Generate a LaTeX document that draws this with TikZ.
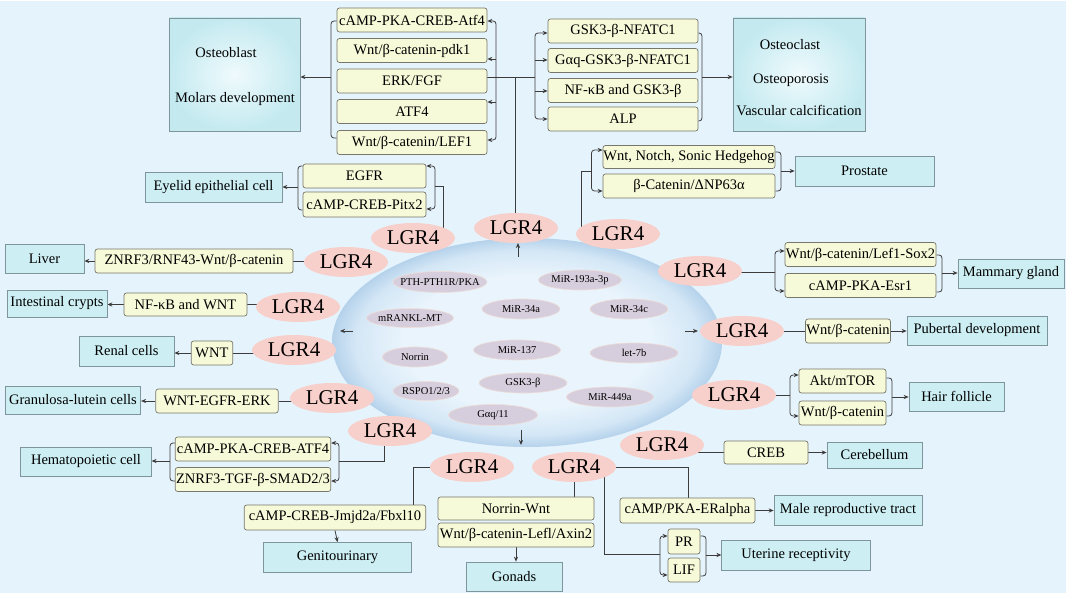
\documentclass[tikz,border=0pt]{standalone}
\usepackage{fontspec}
\setmainfont{Liberation Serif}
\usetikzlibrary{shapes.geometric,arrows.meta,calc}
\pgfdeclarelayer{back}
\pgfdeclarelayer{mid}
\pgfsetlayers{back,mid,main}
\definecolor{bgc}{HTML}{E5F3FC}
\definecolor{ybf}{HTML}{F7FAD8}
\definecolor{ybd}{HTML}{77776B}
\definecolor{cbf}{HTML}{CDEFF4}
\definecolor{cbd}{HTML}{7E969B}
\definecolor{bigA}{HTML}{EFFAFD}
\definecolor{bigB}{HTML}{C4EAF0}
\definecolor{lgf}{HTML}{F8D0CB}
\definecolor{molf}{HTML}{D6CEDC}
\definecolor{molb}{HTML}{EEDDD8}
\definecolor{lnc}{HTML}{3C3C3C}
\definecolor{cellA}{HTML}{E9F4FC}
\definecolor{cellB}{HTML}{D4E7F6}
\definecolor{cellC}{HTML}{B5D2EB}
\pgfdeclareradialshading{cellshade}{\pgfpoint{0bp}{0bp}}{color(0bp)=(cellA); color(16bp)=(cellA); color(22bp)=(cellB); color(25bp)=(cellC); color(50bp)=(cellC)}
\newcommand{\bxfont}{\fontsize{14.5pt}{17pt}\selectfont}
\newcommand{\lgfont}{\fontsize{21pt}{24pt}\selectfont}
\newcommand{\mlfont}{\fontsize{10.5pt}{12pt}\selectfont}
\begin{document}
\begin{tikzpicture}[x=1pt,y=-1pt,
 yb/.style={draw=ybd, fill=ybf, rounded corners=2.5pt, line width=0.7pt, inner sep=0pt, font=\bxfont},
 cb/.style={draw=cbd, fill=cbf, line width=0.7pt, inner sep=0pt, font=\bxfont},
 bigb/.style={draw=cbd, inner color=bigA, outer color=bigB, line width=0.7pt, inner sep=0pt},
 txt/.style={inner sep=0pt, font=\bxfont},
 lg/.style={ellipse, fill=lgf, minimum width=84pt, minimum height=30pt, inner sep=0pt, font=\lgfont},
 mol/.style={ellipse, fill=molf, draw=molb, line width=0.6pt, inner sep=0pt},
 moltxt/.style={inner sep=0pt, font=\mlfont},
 ln/.style={draw=lnc, line width=0.8pt},
 ar/.style={ln, -{Stealth[length=5pt,width=4.2pt]}},
 rc/.style={rounded corners=3pt}]
\useasboundingbox (0,0) rectangle (1072,599);
\begin{pgfonlayer}{back}
\fill[white] (0,0) rectangle (1072,599);
\fill[bgc] (0,1) rectangle (1066,593);
\shade[shading=cellshade] (527,342.5) ellipse [x radius=195pt, y radius=104.5pt];
\end{pgfonlayer}

% ---------- top-left group
\node[bigb, minimum width=131, minimum height=113] (obx) at (234.5,74.5) {};
\node[txt] (obt1) at (226,53) {Osteoblast};
\node[txt] (obt2) at (235,99) {Molars development};
\node[yb, minimum width=150, minimum height=24] (ob1) at (412,20) {cAMP-PKA-CREB-Atf4};
\node[yb, minimum width=150, minimum height=24] (ob2) at (412,50.5) {Wnt/β-catenin-pdk1};
\node[yb, minimum width=150, minimum height=24] (ob3) at (412,81) {ERK/FGF};
\node[yb, minimum width=150, minimum height=24] (ob4) at (412,111.5) {ATF4};
\node[yb, minimum width=150, minimum height=24] (ob5) at (412,142.5) {Wnt/β-catenin/LEF1};

% ---------- top-right group
\node[yb, minimum width=150, minimum height=24] (oc1) at (623,31) {GSK3-β-NFATC1};
\node[yb, minimum width=150, minimum height=24] (oc2) at (623,60.5) {Gαq-GSK3-β-NFATC1};
\node[yb, minimum width=150, minimum height=24] (oc3) at (623,90.5) {NF-κB and GSK3-β};
\node[yb, minimum width=150, minimum height=24] (oc4) at (623,119) {ALP};
\node[bigb, minimum width=132, minimum height=113] (ocx) at (799,74.5) {};
\node[txt] (oct1) at (790,45) {Osteoclast};
\node[txt] (oct2) at (791,80) {Osteoporosis};
\node[txt] (oct3) at (799,111) {Vascular calcification};

% ---------- eyelid
\node[cb, minimum width=137, minimum height=30] (eyx) at (213.5,187) {Eyelid epithelial cell};
\node[yb, minimum width=123, minimum height=24] (ey1) at (364.5,176) {EGFR};
\node[yb, minimum width=123, minimum height=25] (ey2) at (364.5,204.5) {cAMP-CREB-Pitx2};

% ---------- prostate
\node[yb, minimum width=172, minimum height=23] (pr1) at (689,157) {Wnt, Notch, Sonic Hedgehog};
\node[yb, minimum width=172, minimum height=24] (pr2) at (689,186) {β-Catenin/ΔNP63α};
\node[cb, minimum width=139, minimum height=30] (prx) at (864.5,171) {Prostate};

% ---------- left column
\node[cb, minimum width=79, minimum height=29] (lvx) at (44.5,258.5) {Liver};
\node[yb, minimum width=198, minimum height=24] (lv1) at (194,261) {ZNRF3/RNF43-Wnt/β-catenin};
\node[cb, minimum width=100, minimum height=27] (inx) at (57,303.5) {Intestinal crypts};
\node[yb, minimum width=123, minimum height=23] (in1) at (185.5,304.5) {NF-κB and WNT};
\node[cb, minimum width=95, minimum height=30] (rnx) at (126.5,351) {Renal cells};
\node[yb, minimum width=41.5, minimum height=24] (rn1) at (212,353) {WNT};
\node[cb, minimum width=135.5, minimum height=28] (grx) at (73,400) {Granulosa-lutein cells};
\node[yb, minimum width=122.4, minimum height=24] (gr1) at (217,401) {WNT-EGFR-ERK};
\node[cb, minimum width=130.5, minimum height=29] (hmx) at (86,461.5) {Hematopoietic cell};
\node[yb, minimum width=155.6, minimum height=24] (hm1) at (253,449) {cAMP-PKA-CREB-ATF4};
\node[yb, minimum width=155.6, minimum height=24] (hm2) at (253,479.5) {ZNRF3-TGF-β-SMAD2/3};

% ---------- bottom
\node[yb, minimum width=181.5, minimum height=25] (gu1) at (335,517.5) {cAMP-CREB-Jmjd2a/Fbxl10};
\node[cb, minimum width=148, minimum height=30] (gux) at (337.5,557.5) {Genitourinary};
\node[yb, minimum width=156, minimum height=23] (gn1) at (516,508.5) {Norrin-Wnt};
\node[yb, minimum width=156, minimum height=24] (gn2) at (516,535) {Wnt/β-catenin-Lefl/Axin2};
\node[cb, minimum width=96, minimum height=29] (gnx) at (514,576.5) {Gonads};
\node[yb, minimum width=135, minimum height=25] (mr1) at (687.5,510.5) {cAMP/PKA-ERalpha};
\node[cb, minimum width=148, minimum height=30] (mrx) at (848,510) {Male reproductive tract};
\node[yb, minimum width=32, minimum height=25] (ut1) at (684,541.5) {PR};
\node[yb, minimum width=32, minimum height=24] (ut2) at (684,570) {LIF};
\node[cb, minimum width=148.5, minimum height=30] (utx) at (796,555) {Uterine receptivity};

% ---------- right column
\node[yb, minimum width=151, minimum height=24] (mm1) at (860.5,254.5) {Wnt/β-catenin/Lef1-Sox2};
\node[yb, minimum width=151, minimum height=24] (mm2) at (860.5,285.5) {cAMP-PKA-Esr1};
\node[cb, minimum width=106, minimum height=29] (mmx) at (1011,273.5) {Mammary gland};
\node[yb, minimum width=85, minimum height=24] (pb1) at (848,331) {Wnt/β-catenin};
\node[cb, minimum width=140, minimum height=29] (pbx) at (977,330.5) {Pubertal development};
\node[yb, minimum width=87, minimum height=24] (hf1) at (842.5,381) {Akt/mTOR};
\node[yb, minimum width=87, minimum height=24] (hf2) at (842.5,413) {Wnt/β-catenin};
\node[cb, minimum width=95, minimum height=29] (hfx) at (956.5,396.5) {Hair follicle};
\node[yb, minimum width=84, minimum height=23] (cb1) at (766,452.5) {CREB};
\node[cb, minimum width=95, minimum height=26] (cbx) at (874.5,455) {Cerebellum};

% ---------- LGR4 ellipses
\node[lg] (lgTop) at (516,228) {LGR4};
\node[lg] (lgEy) at (413,238) {LGR4};
\node[lg] (lgPr) at (618,234) {LGR4};
\node[lg] (lgMm) at (700,271) {LGR4};
\node[lg] (lgLv) at (346,262) {LGR4};
\node[lg] (lgIn) at (298,307) {LGR4};
\node[lg] (lgRn) at (294,350) {LGR4};
\node[lg] (lgGr) at (332,398) {LGR4};
\node[lg] (lgPb) at (742,331) {LGR4};
\node[lg] (lgHf) at (734,395) {LGR4};
\node[lg] (lgHm) at (390,431) {LGR4};
\node[lg] (lgCb) at (662,445) {LGR4};
\node[lg] (lgGu) at (472,467) {LGR4};
\node[lg] (lgGn) at (574,467) {LGR4};

% ---------- molecules in the cell
\node[mol, minimum width=94, minimum height=21] (m1) at (440,282) {};
\node[moltxt] (m1t) at (m1) {PTH-PTH1R/PKA};
\node[mol, minimum width=83, minimum height=20] (m2) at (580,280) {};
\node[moltxt] (m2t) at (m2) {MiR-193a-3p};
\node[mol, minimum width=78, minimum height=20] (m3) at (521,309) {};
\node[moltxt] (m3t) at (m3) {MiR-34a};
\node[mol, minimum width=78, minimum height=20] (m4) at (629,309) {};
\node[moltxt] (m4t) at (m4) {MiR-34c};
\node[mol, minimum width=87, minimum height=19] (m5) at (410,318) {};
\node[moltxt] (m5t) at (m5) {mRANKL-MT};
\node[mol, minimum width=87, minimum height=20] (m6) at (517,350) {};
\node[moltxt] (m6t) at (m6) {MiR-137};
\node[mol, minimum width=88, minimum height=20] (m7) at (634,353) {};
\node[moltxt] (m7t) at (m7) {let-7b};
\node[mol, minimum width=65, minimum height=20] (m8) at (415,357) {};
\node[moltxt] (m8t) at (m8) {Norrin};
\node[mol, minimum width=88, minimum height=20] (m9) at (523,383) {};
\node[moltxt] (m9t) at (m9) {GSK3-β};
\node[mol, minimum width=66, minimum height=19] (m10) at (426,391) {};
\node[moltxt] (m10t) at (m10) {RSPO1/2/3};
\node[mol, minimum width=87, minimum height=20] (m11) at (610,397) {};
\node[moltxt] (m11t) at (m11) {MiR-449a};
\node[mol, minimum width=89, minimum height=21] (m12) at (493,415) {};
\node[moltxt] (m12t) at (m12) {Gαq/11};

% ---------- coordinates
\coordinate (obLt) at (331,21); \coordinate (obLb) at (331,138); \coordinate (obLm) at (331,77);
\coordinate (obRt) at (496,21); \coordinate (obRb) at (496,140); \coordinate (obRm) at (496,77);
\coordinate (obR2) at (496,59); \coordinate (obR4) at (496,102);
\coordinate (vtop) at (515,77);
\coordinate (ocLt) at (535,33); \coordinate (ocLb) at (535,119); \coordinate (ocLm) at (535,77);
\coordinate (ocL2) at (535,60); \coordinate (ocL3) at (535,91);
\coordinate (ocRt) at (702,33); \coordinate (ocRb) at (702,121); \coordinate (ocRm) at (702,77);
\coordinate (eyLt) at (298,166); \coordinate (eyLb) at (298,210); \coordinate (eyLm) at (298,187);
\coordinate (eyRt) at (435,166); \coordinate (eyRb) at (435,209); \coordinate (eyRm) at (435,186);
\coordinate (eyRc) at (443.5,186);
\coordinate (prLt) at (591.5,150); \coordinate (prLb) at (591.5,191); \coordinate (prLm) at (591.5,171);
\coordinate (prC) at (581,171);
\coordinate (prRt) at (781,152); \coordinate (prRb) at (781,191); \coordinate (prRm) at (781,171);
\coordinate (mmLt) at (775,251); \coordinate (mmLb) at (775,291); \coordinate (mmLm) at (775,272);
\coordinate (mmRt) at (942,255); \coordinate (mmRb) at (942,292); \coordinate (mmRm) at (942,273);
\coordinate (hfLt) at (790,375); \coordinate (hfLb) at (790,416); \coordinate (hfLm) at (790,395);
\coordinate (hfRt) at (892,378); \coordinate (hfRb) at (892,416); \coordinate (hfRm) at (892,397);
\coordinate (hmLt) at (170,443); \coordinate (hmLb) at (170,481); \coordinate (hmLm) at (170,461);
\coordinate (hmRt) at (339,443); \coordinate (hmRb) at (339,481); \coordinate (hmRm) at (339,461);
\coordinate (hmRc) at (384,461);
\coordinate (guC) at (413,467);
\coordinate (mrC) at (688,467);
\coordinate (utA) at (604,467); \coordinate (utB) at (604,554);
\coordinate (utLt) at (660,536); \coordinate (utLb) at (660,575); \coordinate (utLm) at (660,554);
\coordinate (utRt) at (706,536); \coordinate (utRb) at (706,576); \coordinate (utRm) at (706,555);
\coordinate (cU1) at (518,257); \coordinate (cU2) at (518,243);
\coordinate (cL1) at (353,331); \coordinate (cL2) at (340,331);
\coordinate (cR1) at (685,331); \coordinate (cR2) at (698,331);
\coordinate (cD1) at (521,430); \coordinate (cD2) at (521,445);

% ---------- connectors
\begin{pgfonlayer}{mid}
% osteoblast
\draw[ln,rc] (obLt -| ob1.west) -- (obLt) -- (obLb) -- (obLb -| ob5.west);
\draw[ar] (obLm) -- (obLm -| obx.east);
\draw[ar,rc] (obRm) -- (obRt) -- (obRt -| ob1.east);
\draw[ar,rc] (obRm) -- (obRb) -- (obRb -| ob5.east);
\draw[ar] (obR2) -- (obR2 -| ob2.east);
\draw[ar] (obR4) -- (obR4 -| ob4.east);
\draw[ln] (obRm -| ob3.east) -- (ocLm);
\draw[ln] (vtop) -- (vtop |- lgTop.center);
% osteoclast
\draw[ar,rc] (ocLm) -- (ocLt) -- (ocLt -| oc1.west);
\draw[ar,rc] (ocLm) -- (ocLb) -- (ocLb -| oc4.west);
\draw[ar] (ocL2) -- (ocL2 -| oc2.west);
\draw[ar] (ocL3) -- (ocL3 -| oc3.west);
\draw[ln,rc] (ocRt -| oc1.east) -- (ocRt) -- (ocRb) -- (ocRb -| oc4.east);
\draw[ar] (ocRm) -- (ocRm -| ocx.west);
% eyelid
\draw[ln,rc] (eyLt -| ey1.west) -- (eyLt) -- (eyLb) -- (eyLb -| ey2.west);
\draw[ar] (eyLm) -- (eyLm -| eyx.east);
\draw[ar,rc] (eyRm) -- (eyRt) -- (eyRt -| ey1.east);
\draw[ar,rc] (eyRm) -- (eyRb) -- (eyRb -| ey2.east);
\draw[ln] (eyRm) -- (eyRc) -- (eyRc |- lgEy.center);
% prostate
\draw[ln] (prLm) -- (prC) -- (prC |- lgPr.center);
\draw[ar,rc] (prLm) -- (prLt) -- (prLt -| pr1.west);
\draw[ar,rc] (prLm) -- (prLb) -- (prLb -| pr2.west);
\draw[ln,rc] (prRt -| pr1.east) -- (prRt) -- (prRb) -- (prRb -| pr2.east);
\draw[ar] (prRm) -- (prRm -| prx.west);
% mammary
\draw[ln] (lgMm.center |- mmLm) -- (mmLm);
\draw[ar,rc] (mmLm) -- (mmLt) -- (mmLt -| mm1.west);
\draw[ar,rc] (mmLm) -- (mmLb) -- (mmLb -| mm2.west);
\draw[ln,rc] (mmRt -| mm1.east) -- (mmRt) -- (mmRb) -- (mmRb -| mm2.east);
\draw[ar] (mmRm) -- (mmRm -| mmx.west);
% pubertal
\draw[ln] (lgPb.center) -- (pb1.west);
\draw[ar] (pb1.east) -- (pb1.east -| pbx.west);
% hair
\draw[ln] (lgHf.center) -- (hfLm);
\draw[ar,rc] (hfLm) -- (hfLt) -- (hfLt -| hf1.west);
\draw[ar,rc] (hfLm) -- (hfLb) -- (hfLb -| hf2.west);
\draw[ln,rc] (hfRt -| hf1.east) -- (hfRt) -- (hfRb) -- (hfRb -| hf2.east);
\draw[ar] (hfRm) -- (hfRm -| hfx.west);
% cerebellum
\draw[ln] (lgCb.center |- cb1.west) -- (cb1.west);
\draw[ar] (cb1.east) -- (cb1.east -| cbx.west);
% left column
\draw[ln] (lv1.east) -- (lv1.east -| lgLv.center);
\draw[ar] (lv1.west) -- (lv1.west -| lvx.east);
\draw[ln] (in1.east) -- (in1.east -| lgIn.center);
\draw[ar] (in1.west) -- (in1.west -| inx.east);
\draw[ln] (rn1.east) -- (rn1.east -| lgRn.center);
\draw[ar] (rn1.west) -- (rn1.west -| rnx.east);
\draw[ln] (gr1.east) -- (gr1.east -| lgGr.center);
\draw[ar] (gr1.west) -- (gr1.west -| grx.east);
% hematopoietic
\draw[ln,rc] (hmLt -| hm1.west) -- (hmLt) -- (hmLb) -- (hmLb -| hm2.west);
\draw[ar] (hmLm) -- (hmLm -| hmx.east);
\draw[ar,rc] (hmRm) -- (hmRt) -- (hmRt -| hm1.east);
\draw[ar,rc] (hmRm) -- (hmRb) -- (hmRb -| hm2.east);
\draw[ln] (hmRm) -- (hmRc) -- (hmRc |- lgHm.center);
% genitourinary
\draw[ln] (lgGu.center) -- (guC) -- (guC |- gu1.north);
\draw[ar] (gu1.south) -- (gux.north);
% gonads
\draw[ln] (lgGn.center) -- (lgGn.center |- gn1.north);
\draw[ar] (gn2.south) -- (gn2.south |- gnx.north);
% male reproductive
\draw[ln] (lgGn.center) -- (mrC) -- (mrC |- mr1.north);
\draw[ar] (mr1.east) -- (mr1.east -| mrx.west);
% uterine
\draw[ln] (utA) -- (utB) -- (utLm);
\draw[ar,rc] (utLm) -- (utLt) -- (utLt -| ut1.west);
\draw[ar,rc] (utLm) -- (utLb) -- (utLb -| ut2.west);
\draw[ln,rc] (utRt -| ut1.east) -- (utRt) -- (utRb) -- (utRb -| ut2.east);
\draw[ar] (utRm) -- (utRm -| utx.west);
% arrows inside the cell
\draw[ar] (cU1) -- (cU2);
\draw[ar] (cL1) -- (cL2);
\draw[ar] (cR1) -- (cR2);
\draw[ar] (cD1) -- (cD2);
\end{pgfonlayer}
\end{tikzpicture}
\end{document}
